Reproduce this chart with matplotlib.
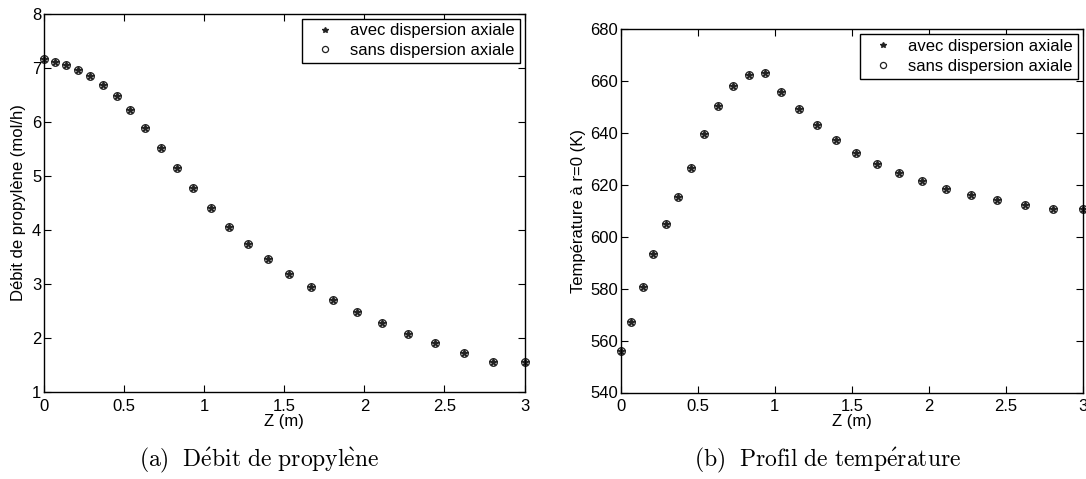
import matplotlib
matplotlib.use("Agg")
import matplotlib.pyplot as plt

# Position axiale (m)
z = [0.0, 0.067, 0.14, 0.21, 0.29, 0.37, 0.454, 0.54, 0.633, 0.728, 0.829,
     0.933, 1.042, 1.157, 1.275, 1.40, 1.53, 1.667, 1.807, 1.956, 2.11,
     2.274, 2.444, 2.623, 2.806, 3.0]

# Debit de propylene (mol/h)
debit_avec = [7.16, 7.11, 7.05, 6.96, 6.85, 6.68, 6.48, 6.21, 5.875, 5.52, 5.14,
              4.77, 4.40, 4.06, 3.74, 3.46, 3.19, 2.94, 2.71, 2.48, 2.27,
              2.08, 1.90, 1.73, 1.56, 1.56]
debit_sans = list(debit_avec)

# Temperature a r=0 (K)
temp_avec = [556.0, 567.0, 580.6, 593.4, 604.8, 615.4, 626.5, 639.6, 650.4, 658.2,
             662.3, 663.0, 655.8, 649.3, 643.1, 637.3, 632.3, 628.0, 624.4, 621.3,
             618.5, 616.2, 614.2, 612.4, 610.6, 610.6]
temp_sans = list(temp_avec)

x_ticks = [0, 0.5, 1, 1.5, 2, 2.5, 3]
x_ticklabels = ["0", "0.5", "1", "1.5", "2", "2.5", "3"]

plt.rcParams['font.family'] = ['Liberation Sans', 'DejaVu Sans']
plt.rcParams['mathtext.fontset'] = 'cm'

fig = plt.figure(figsize=(10.86, 4.79), dpi=100)
W, H = 1086.0, 479.0

def make_axes(l, t, r, b):
    return fig.add_axes([l / W, 1 - b / H, (r - l) / W, (b - t) / H])

ax1 = make_axes(44, 13.5, 524.5, 392)
ax2 = make_axes(621, 29, 1082.5, 392.5)

def style(ax):
    ax.tick_params(direction='in', top=True, right=True, length=5, width=0.8,
                   labelsize=12, pad=2, colors='black')
    ax.tick_params(axis='x', pad=5)
    for s in ax.spines.values():
        s.set_linewidth(1.0)
        s.set_color('black')
    ax.set_xlim(0, 3)
    ax.set_xticks(x_ticks)
    ax.set_xticklabels(x_ticklabels)
    ax.set_xlabel("Z (m)", fontsize=12, labelpad=0)

def draw(ax, y_avec, y_sans):
    ax.plot(z, y_avec, linestyle='none', marker='*', markersize=5.5,
            color='#222222', label="avec dispersion axiale", clip_on=False)
    ax.plot(z, y_sans, linestyle='none', marker='o', markersize=5.5,
            markerfacecolor='none', markeredgecolor='#222222', markeredgewidth=0.9,
            label="sans dispersion axiale", clip_on=False)
    leg = ax.legend(loc='upper right', fontsize=12, frameon=True, fancybox=False,
                    edgecolor='black', borderaxespad=0.3, handlelength=2.2,
                    handletextpad=0.4, borderpad=0.3, labelspacing=0.28,
                    markerscale=0.8)
    leg.get_frame().set_linewidth(1.0)
    leg.get_frame().set_alpha(1)

style(ax1)
draw(ax1, debit_avec, debit_sans)
ax1.set_ylim(1, 8)
ax1.set_yticks(range(1, 9))
ax1.set_ylabel("Débit de propylène (mol/h)", fontsize=12, labelpad=4)

style(ax2)
draw(ax2, temp_avec, temp_sans)
ax2.set_ylim(540, 680)
ax2.set_yticks(range(540, 681, 20))
ax2.set_ylabel("Température à r=0 (K)", fontsize=12, labelpad=3)

fig.text(259 / W, 1 - 460 / H, r"$\mathrm{(a)\ \ D\acute{e}bit\ de\ propyl\grave{e}ne}$",
         ha='center', va='center', fontsize=17)
fig.text(828 / W, 1 - 460 / H, r"$\mathrm{(b)\ \ Profil\ de\ temp\acute{e}rature}$",
         ha='center', va='center', fontsize=17)

fig.savefig("out.png", dpi=100)
